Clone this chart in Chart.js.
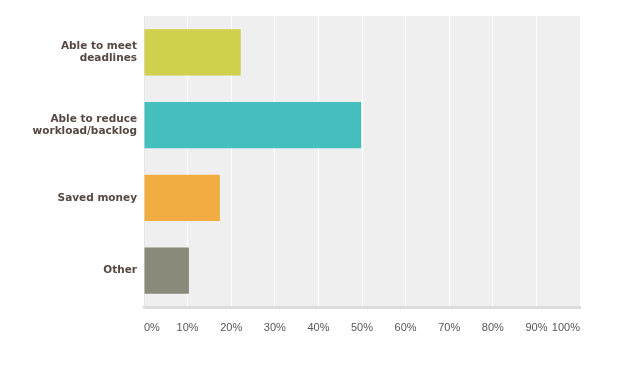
<!DOCTYPE html>
<html>
<head>
<meta charset="utf-8">
<script src="https://cdn.jsdelivr.net/npm/chart.js@4/dist/chart.umd.min.js"></script>
<style>
html,body{margin:0;padding:0;background:#fff;}
#wrap{width:618px;height:377px;position:relative;}
</style>
</head>
<body>
<div id="wrap"><canvas id="c" width="618" height="377"></canvas></div>
<script>
const categories = [["Able to meet","deadlines"],["Able to reduce","workload/backlog"],["Saved money"],["Other"]];
const values = [22.2, 49.8, 17.4, 10.3];
const barColors = ["#cfd04b", "#44bfbd", "#f1ad41", "#898a79"];
const tickValues = [0,10,20,30,40,50,60,70,80,90,100];

const plotBg = {
  id: 'plotBg',
  beforeDraw(chart) {
    const a = chart.chartArea, ctx = chart.ctx;
    ctx.save();
    ctx.fillStyle = '#efefef';
    ctx.fillRect(a.left, a.top, a.right - a.left, a.bottom - a.top);
    ctx.restore();
  }
};

new Chart(document.getElementById('c'), {
  type: 'bar',
  data: {
    labels: categories,
    datasets: [{
      data: values,
      backgroundColor: barColors,
      borderWidth: 0,
      barPercentage: 1,
      categoryPercentage: 0.635
    }]
  },
  options: {
    indexAxis: 'y',
    responsive: false,
    animation: false,
    events: [],
    layout: { padding: { top: 16, right: 38, bottom: 0, left: 0 } },
    plugins: { legend: { display: false }, tooltip: { enabled: false } },
    scales: {
      x: {
        min: 0, max: 100,
        afterBuildTicks(axis) { axis.ticks = tickValues.map(v => ({ value: v })); },
        afterFit(axis) { axis.height = 70; },
        grid: { color: '#ffffff', lineWidth: 1, drawTicks: false },
        border: { color: '#dcdcdc', width: 3 },
        ticks: {
          align: 'inner',
          padding: 14,
          color: '#555555',
          font: { family: 'Liberation Sans', size: 11 },
          callback: v => v + '%'
        }
      },
      y: {
        afterFit(axis) { axis.width = 144; },
        grid: { display: false, drawTicks: false },
        border: { color: '#e6e6e6', width: 1 },
        ticks: {
          padding: 7,
          color: '#564842',
          font: { family: 'DejaVu Sans', size: 10.5, weight: 'bold', lineHeight: 1.15 }
        }
      }
    }
  },
  plugins: [plotBg]
});
</script>
</body>
</html>
